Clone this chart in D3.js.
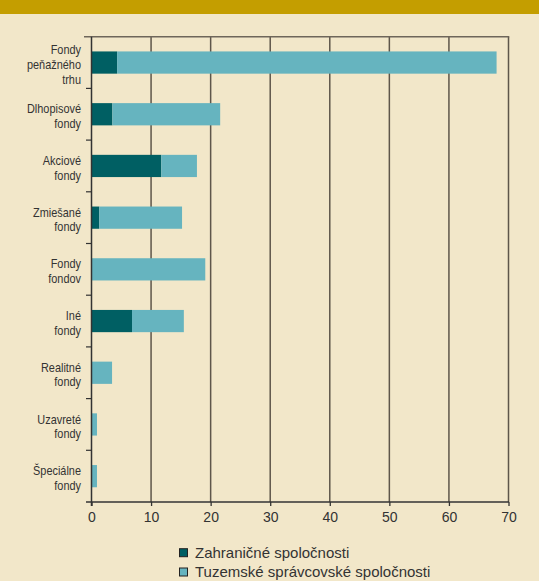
<!DOCTYPE html>
<html><head><meta charset="utf-8">
<script src="https://cdn.jsdelivr.net/npm/d3@7"></script>
<style>
html,body{margin:0;padding:0;background:#F2E7C9;}
svg{display:block;}
text{font-family:"Liberation Sans",Arial,sans-serif;fill:#333;}
</style></head><body>
<script>
const categories = [
  ["Fondy","peňažného","trhu"],
  ["Dlhopisové","fondy"],
  ["Akciové","fondy"],
  ["Zmiešané","fondy"],
  ["Fondy","fondov"],
  ["Iné","fondy"],
  ["Realitné","fondy"],
  ["Uzavreté","fondy"],
  ["Špeciálne","fondy"]
];
const zahranicne = [4.3, 3.5, 11.7, 1.3, 0, 6.8, 0, 0, 0];
const tuzemske   = [63.7, 18.1, 6.0, 13.9, 19.1, 8.7, 3.45, 0.92, 0.92];
const xTicks = [0,10,20,30,40,50,60,70];
const seriesNames = ["Zahraničné spoločnosti","Tuzemské správcovské spoločnosti"];
const colors = ["#005F63","#66B4BF"];

(function(){
const W = 539, H = 581;
const svg = d3.select("body").append("svg").attr("width",W).attr("height",H);
svg.append("rect").attr("width",W).attr("height",H).attr("fill","#F2E7C9");
svg.append("rect").attr("width",W).attr("height",14).attr("fill","#C49E00");

const mL = 91.5, mR = 508.5, mT = 36.7, mB = 502;
const x = d3.scaleLinear().domain([0,70]).range([mL,mR]);
const idx = categories.map((d,i)=>i);
const y = d3.scaleBand().domain(idx).range([mT,mB]).paddingInner(0.57).paddingOuter(0.285);

const g = svg.append("g");
g.selectAll("line.grid").data(xTicks.slice(1)).enter().append("line")
  .attr("x1",d=>x(d)).attr("x2",d=>x(d)).attr("y1",mT).attr("y2",mB)
  .attr("stroke","#5E564A").attr("stroke-width",1.5);
g.append("line").attr("x1",84).attr("x2",mR+0.75).attr("y1",mT).attr("y2",mT)
  .attr("stroke","#6E665A").attr("stroke-width",1.5);

const stackData = idx.map(i=>({i, z:zahranicne[i], t:tuzemske[i]}));
const stack = d3.stack().keys(["z","t"])(stackData);
svg.selectAll("g.series").data(stack).enter().append("g")
  .attr("fill",(d,k)=>colors[k])
  .selectAll("rect").data(d=>d).enter().append("rect")
  .attr("x",d=>x(d[0])).attr("width",d=>x(d[1])-x(d[0]))
  .attr("y",d=>y(d.data.i)).attr("height",y.bandwidth());

const bounds = d3.range(categories.length+1).map(k=>mT + (mB-mT)*k/categories.length);
svg.append("line").attr("x1",mL).attr("x2",mL).attr("y1",mT).attr("y2",mB+4)
  .attr("stroke","#333").attr("stroke-width",1.5);
svg.selectAll("line.ct").data(bounds.slice(1,-1)).enter().append("line")
  .attr("x1",86).attr("x2",mL).attr("y1",d=>d).attr("y2",d=>d)
  .attr("stroke","#333").attr("stroke-width",1.2);

const xAxis = d3.axisBottom(x).tickValues(xTicks).tickSize(4).tickPadding(6).tickSizeOuter(0);
const ax = svg.append("g").attr("transform",`translate(0,${mB})`).call(xAxis);
ax.select(".domain").remove();
ax.append("line").attr("x1",86).attr("x2",mR+0.5).attr("y1",0).attr("y2",0).attr("stroke","#333").attr("stroke-width",1.3);
ax.selectAll(".tick line").attr("stroke","#333").attr("stroke-width",1.3);
ax.selectAll(".tick text").attr("font-size",14).attr("fill","#333")
  .style("font-family",'"Liberation Sans",Arial,sans-serif');

const labG = svg.append("g").attr("transform","translate(81,0) scale(0.84,1)");
const lab = labG.selectAll("text.cat").data(idx).enter().append("text")
  .attr("text-anchor","end").attr("font-size",13).attr("x",0);
lab.each(function(i){
  const lines = categories[i];
  const cy = y(i)+y.bandwidth()/2 + 1.5;
  const lh = 14.6;
  const y0 = cy - (lines.length-1)*lh/2;
  d3.select(this).selectAll("tspan").data(lines).enter().append("tspan")
    .attr("x",0).attr("y",(d,k)=>y0+k*lh).attr("dy","0.38em").text(d=>d);
});

const lg = svg.append("g");
seriesNames.forEach((n,k)=>{
  const yy = 552.7 + k*19.3;
  lg.append("rect").attr("x",179.5).attr("y",yy-4).attr("width",8).attr("height",8)
    .attr("fill",colors[k]).attr("stroke","#222").attr("stroke-width",1);
  lg.append("text").attr("x",195).attr("y",yy).attr("dy","0.35em").attr("font-size",15).text(n);
});
})();
</script>
</body></html>
